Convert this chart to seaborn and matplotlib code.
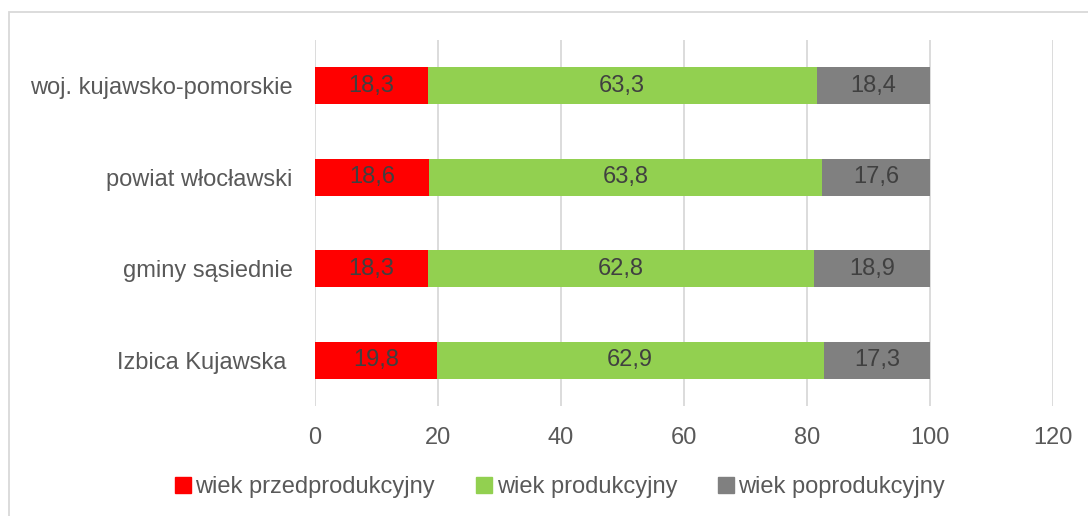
import matplotlib
matplotlib.use("Agg")
import matplotlib.pyplot as plt
import matplotlib.patches as mpatches
import seaborn as sns
import pandas as pd
import numpy as np

categories = ["woj. kujawsko-pomorskie", "powiat włocławski", "gminy sąsiednie", "Izbica Kujawska "]
przed = [18.3, 18.6, 18.3, 19.8]
prod = [63.3, 63.8, 62.8, 62.9]
popr = [18.4, 17.6, 18.9, 17.3]
series_names = ["wiek przedprodukcyjny", "wiek produkcyjny", "wiek poprodukcyjny"]
colors = ["#FF0000", "#92D050", "#808080"]
xticks = [0, 20, 40, 60, 80, 100, 120]

sns.set_theme(style="white")
plt.rcParams['font.family'] = ['Liberation Sans', 'DejaVu Sans']

df = pd.DataFrame({"cat": categories, "przed": przed, "prod": prod, "popr": popr})
df["c1"] = df["przed"]
df["c2"] = df["przed"] + df["prod"]
df["c3"] = df["c2"] + df["popr"]

fs = 17
fig = plt.figure(figsize=(10.88, 5.16), dpi=100)
ax = fig.add_axes([0.2895, 0.2132, 0.9678 - 0.2895, 0.9225 - 0.2132])

for col, c in zip(["c3", "c2", "c1"], colors[::-1]):
    sns.barplot(data=df, x=col, y="cat", order=categories, orient="h", color=c,
                saturation=1, width=0.4, ax=ax, zorder=3, linewidth=0)

ax.set_xlim(0, 120)
ax.set_xticks(xticks)
ax.set_xlabel("")
ax.set_ylabel("")
ax.grid(axis="x", color="#D9D9D9", linewidth=1.3, zorder=0)
ax.set_axisbelow(True)
for s in ax.spines.values():
    s.set_visible(False)
ax.tick_params(axis="x", length=0, pad=15, labelsize=fs, labelcolor="#595959")
ax.tick_params(axis="y", length=0, pad=16, labelsize=fs, labelcolor="#595959")

for i in range(len(categories)):
    starts = [0, df["c1"][i], df["c2"][i]]
    vals = [przed[i], prod[i], popr[i]]
    for s0, v in zip(starts, vals):
        ax.text(s0 + v / 2, i, f"{v:.1f}".replace(".", ","), ha="center", va="center",
                fontsize=fs, color="#404040", zorder=5)

handles = [mpatches.Patch(color=c, label=n) for c, n in zip(colors, series_names)]
fig.legend(handles=handles, loc="center", bbox_to_anchor=(0.515, 0.056), ncol=3,
           frameon=False, fontsize=fs, labelcolor="#595959", handlelength=0.65,
           handleheight=0.65, handletextpad=0.2, columnspacing=1.75)

fig.patches.append(mpatches.Rectangle((9 / 1088, -0.05), 1.0, 1.05 - 12 / 516,
                                      transform=fig.transFigure, fill=False,
                                      edgecolor="#D9D9D9", linewidth=1.3))

fig.savefig("out.png", dpi=100)
